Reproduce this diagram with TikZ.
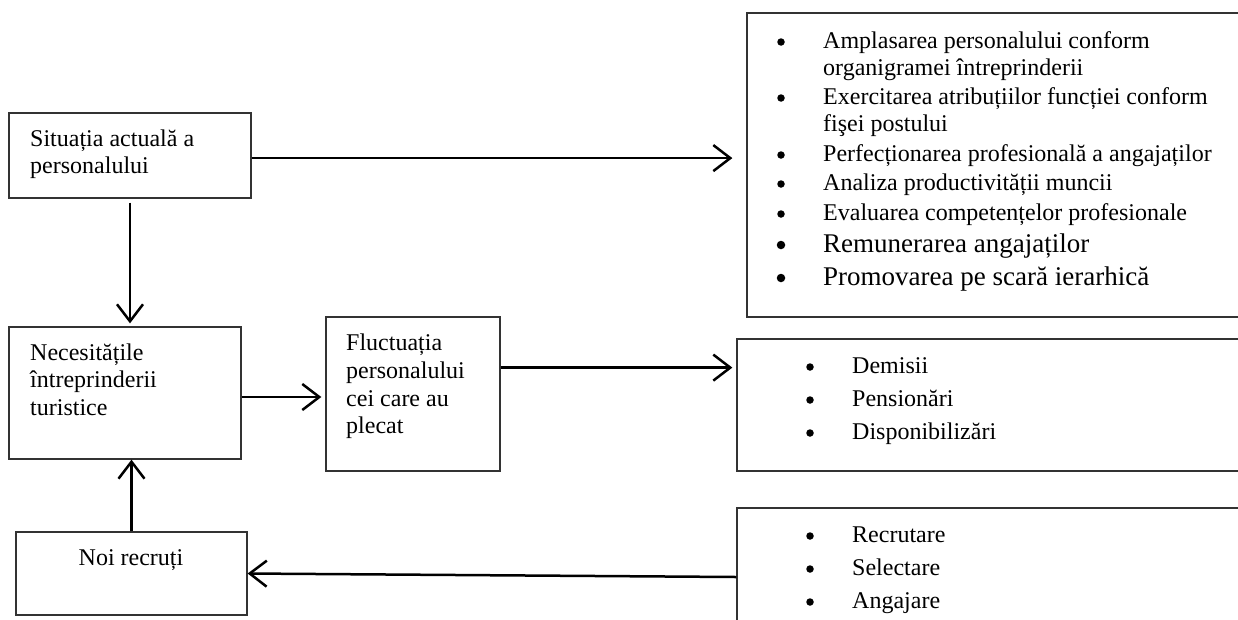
\documentclass[tikz,border=0pt]{standalone}
\usepackage{fontspec}
\setmainfont{Liberation Serif}
\usetikzlibrary{arrows.meta,calc}
\begin{document}
\begin{tikzpicture}[x=1pt,y=-1pt,
  box/.style={draw=black!80,line width=1.3pt,rectangle,inner sep=0pt},
  txt/.style={anchor=base west,inner sep=0pt,font=\fontsize{24}{28}\selectfont},
  big/.style={anchor=base west,inner sep=0pt,font=\fontsize{27}{32}\selectfont},
  ctr/.style={anchor=base,inner sep=0pt,font=\fontsize{24}{28}\selectfont},
  dot/.style={circle,fill=black,inner sep=0pt,minimum size=7.5pt,yshift=6pt},
  bigdot/.style={circle,fill=black,inner sep=0pt,minimum size=8.5pt,yshift=7pt},
  arr/.style={line width=2.5pt,-{Straight Barb[length=17pt,width=26pt,line width=2.5pt]}}]
\useasboundingbox (0,0) rectangle (1238,619);
\clip (0,0) rectangle (1238,619);
% boxes
\node[box,minimum width=242pt,minimum height=85pt] (sit) at (130,155.5) {};
\node[box,minimum width=232pt,minimum height=132pt] (nec) at (125,393) {};
\node[box,minimum width=174pt,minimum height=154pt] (fluct) at (413,394) {};
\node[box,minimum width=231pt,minimum height=83pt] (noi) at (131.5,573.5) {};
\node[box,minimum width=503pt,minimum height=304pt] (topR) at (998.5,165) {};
\node[box,minimum width=513pt,minimum height=132pt] (midR) at (993.5,405) {};
\node[box,minimum width=513pt,minimum height=138pt] (botR) at (993.5,577) {};
% left texts
\node[txt] (t1a) at (30,146) {Situația actuală a};
\node[txt] (t1b) at (30,173) {personalului};
\node[txt] (t2a) at (30,360) {Necesitățile};
\node[txt] (t2b) at (30,387) {întreprinderii};
\node[txt] (t2c) at (30,415) {turistice};
\node[txt] (t3a) at (346,350) {Fluctuația};
\node[txt] (t3b) at (346,378) {personalului};
\node[txt] (t3c) at (346,406) {cei care au};
\node[txt] (t3d) at (346,433) {plecat};
\node[ctr] (t4) at (131,565) {Noi recruți};
% top right list
\node[dot] (b1) at (781,48) {};
\node[txt] (l1a) at (823,48) {Amplasarea personalului conform};
\node[txt] (l1b) at (823,75) {organigramei întreprinderii};
\node[dot] (b2) at (781,104) {};
\node[txt] (l2a) at (823,104) {Exercitarea atribuțiilor funcției conform};
\node[txt] (l2b) at (823,131) {fişei postului};
\node[dot] (b3) at (781,161) {};
\node[txt] (l3) at (823,161) {Perfecționarea profesională a angajaților};
\node[dot] (b4) at (781,190) {};
\node[txt] (l4) at (823,190) {Analiza productivității muncii};
\node[dot] (b5) at (781,220) {};
\node[txt] (l5) at (823,220) {Evaluarea competențelor profesionale};
\node[bigdot] (b6) at (781,252) {};
\node[big] (l6) at (823,252) {Remunerarea angajaților};
\node[bigdot] (b7) at (781,285) {};
\node[big] (l7) at (823,285) {Promovarea pe scară ierarhică};
% middle right list
\node[dot] (m1b) at (810,373) {};
\node[txt] (m1) at (852,373) {Demisii};
\node[dot] (m2b) at (810,406) {};
\node[txt] (m2) at (852,406) {Pensionări};
\node[dot] (m3b) at (810,439) {};
\node[txt] (m3) at (852,439) {Disponibilizări};
% bottom right list
\node[dot] (r1b) at (810,542) {};
\node[txt] (r1) at (852,542) {Recrutare};
\node[dot] (r2b) at (810,575) {};
\node[txt] (r2) at (852,575) {Selectare};
\node[dot] (r3b) at (810,608) {};
\node[txt] (r3) at (852,608) {Angajare};
% arrows
\coordinate (s1) at ($(sit.north east)!0.53!(sit.south east)$);
\draw[arr,shorten >=14pt] (s1) -- (s1 -| topR.west);
\draw[arr,shorten <=4pt,shorten >=3pt] (sit.south) -- (sit.south |- nec.north);
\coordinate (n1) at ($(nec.north east)!0.53!(nec.south east)$);
\draw[arr,shorten >=4pt] (n1) -- (n1 -| fluct.west);
\coordinate (f1) at ($(fluct.north east)!0.33!(fluct.south east)$);
\draw[arr,shorten >=4pt] (f1) -- (f1 -| midR.west);
\draw[arr] (botR.west) -- (noi.east);
\draw[arr] (noi.north) -- (noi.north |- nec.south);
\end{tikzpicture}
\end{document}
